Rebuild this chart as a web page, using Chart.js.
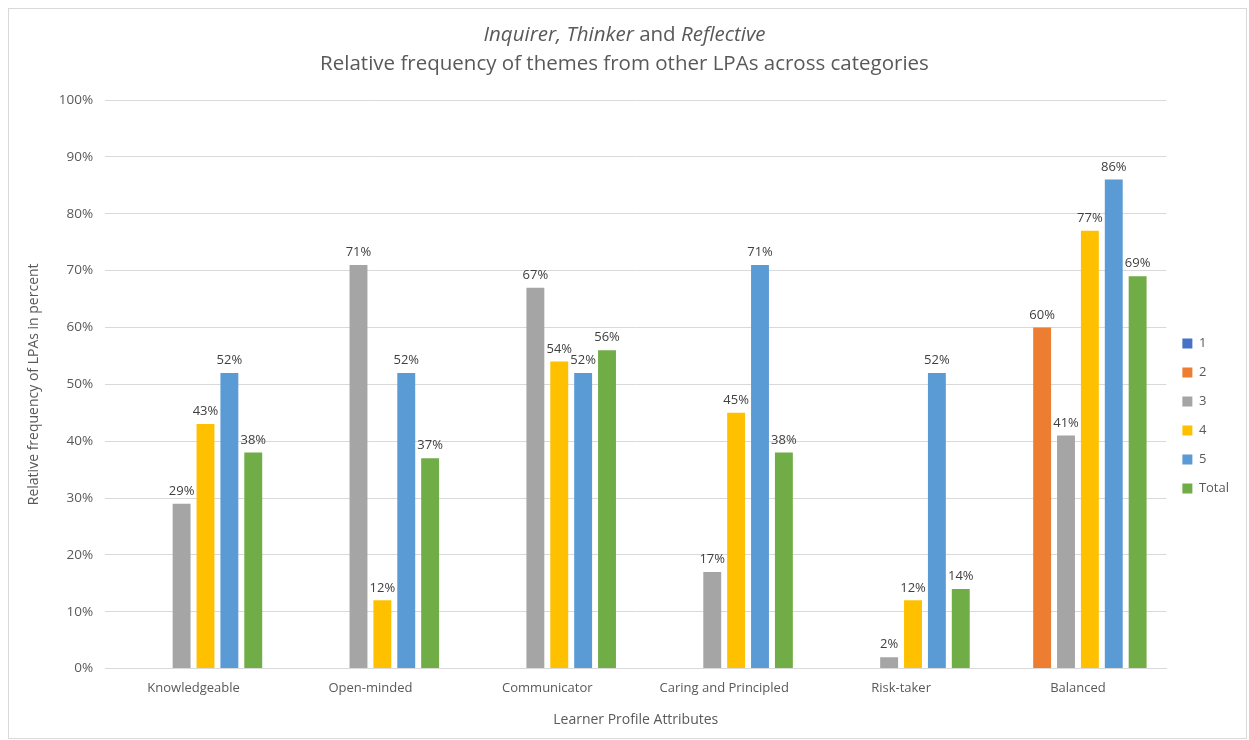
<!DOCTYPE html>
<html>
<head>
<meta charset="utf-8">
<script src="https://cdn.jsdelivr.net/npm/chart.js@4.4.1/dist/chart.umd.min.js"></script>
<style>
  html, body { margin: 0; padding: 0; background: #fff; }
  #wrap { position: relative; width: 1249px; height: 740px; }
  #frame { position: absolute; left: 8px; top: 8px; width: 1237px; height: 729px; border: 1px solid #d9d9d9; }
  #title { position: absolute; left: 0; width: 1249px; top: 19px; text-align: center;
           font-family: 'Open Sans', sans-serif; color: #595959; font-size: 20.5px; line-height: 29px; }
  #chart { position: absolute; left: 0; top: 0; }
</style>
</head>
<body>
<div id="wrap">
  <div id="frame"></div>
  <canvas id="chart" width="1249" height="740"></canvas>
  <div id="title">
    <div><i>Inquirer, Thinker</i> and <i>Reflective</i></div>
    <div>Relative frequency of themes from other LPAs across categories</div>
  </div>
</div>
<script>
// ── Data ────────────────────────────────────────────────────────
const categories = ['Knowledgeable', 'Open-minded', 'Communicator', 'Caring and Principled', 'Risk-taker', 'Balanced'];
const seriesNames = ['1', '2', '3', '4', '5', 'Total'];
const lpa1  = [0, 0, 0, 0, 0, 0];
const lpa2  = [0, 0, 0, 0, 0, 60];
const lpa3  = [29, 71, 67, 17, 2, 41];
const lpa4  = [43, 12, 54, 45, 12, 77];
const lpa5  = [52, 52, 52, 71, 52, 86];
const total = [38, 37, 56, 38, 14, 69];
const colors = ['#4472C4', '#ED7D31', '#A5A5A5', '#FFC000', '#5B9BD5', '#70AD47'];

const FONT = "'Open Sans', sans-serif";
const TEXT = '#595959';

// data labels above each non-zero bar
const barLabels = {
    id: 'barLabels',
    afterDatasetsDraw(chart) {
        const ctx = chart.ctx;
        ctx.save();
        ctx.font = '13px ' + FONT;
        ctx.fillStyle = '#404040';
        ctx.textAlign = 'center';
        ctx.textBaseline = 'bottom';
        chart.data.datasets.forEach((ds, i) => {
            chart.getDatasetMeta(i).data.forEach((bar, j) => {
                const v = ds.data[j];
                if (!v) return;
                ctx.fillText(v + '%', bar.x, bar.y - 6);
            });
        });
        ctx.restore();
    }
};

const values = [lpa1, lpa2, lpa3, lpa4, lpa5, total];

new Chart(document.getElementById('chart'), {
    type: 'bar',
    data: {
        labels: categories,
        datasets: values.map((d, i) => ({
            label: seriesNames[i],
            data: d,
            backgroundColor: colors[i],
            borderWidth: 0,
            categoryPercentage: 0.81,
            barPercentage: 0.75
        }))
    },
    options: {
        responsive: false,
        animation: false,
        layout: { padding: { top: 100, left: 22, right: 10, bottom: 8 } },
        plugins: {
            legend: {
                position: 'right',
                align: 'center',
                labels: {
                    boxWidth: 10, boxHeight: 10, padding: 16,
                    color: TEXT, font: { family: FONT, size: 13 }
                }
            },
            tooltip: { enabled: false }
        },
        scales: {
            y: {
                min: 0, max: 100,
                ticks: {
                    stepSize: 10, color: TEXT, padding: 12,
                    font: { family: FONT, size: 13.5 },
                    callback: v => v + '%'
                },
                grid: { color: '#d9d9d9', drawTicks: false },
                border: { display: false },
                title: {
                    display: true, text: 'Relative frequency of LPAs in percent',
                    color: TEXT, font: { family: FONT, size: 14 }
                }
            },
            x: {
                ticks: { color: TEXT, padding: 4, font: { family: FONT, size: 13 } },
                grid: { display: false },
                border: { color: '#d9d9d9', width: 1 },
                title: {
                    display: true, text: 'Learner Profile Attributes',
                    color: TEXT, font: { family: FONT, size: 14 }, padding: { top: 11 }
                }
            }
        }
    },
    plugins: [barLabels]
});
</script>
</body>
</html>
